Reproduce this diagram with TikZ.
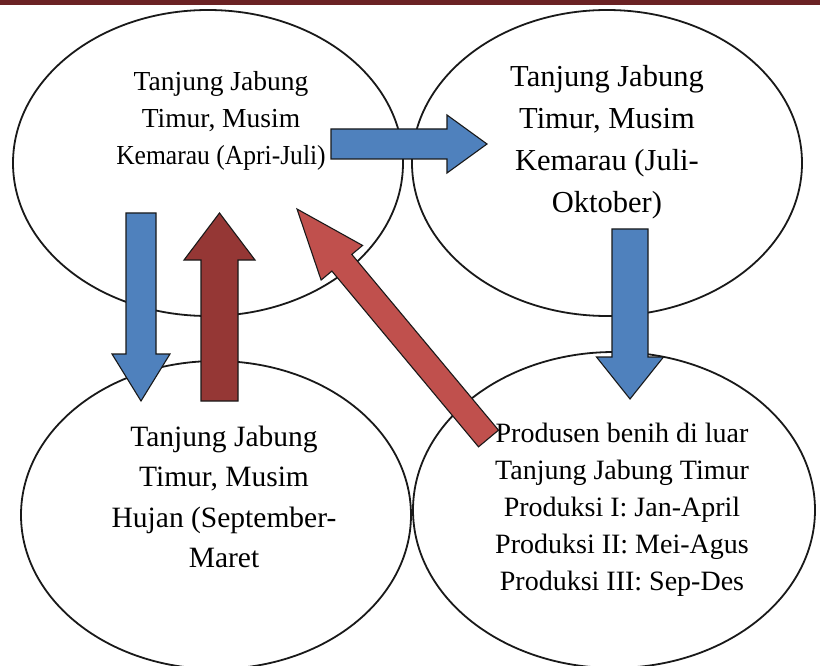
\documentclass[tikz,border=0pt]{standalone}
\usepackage{fontspec}
\setmainfont{Liberation Serif}
\usetikzlibrary{shapes.geometric,calc}
\definecolor{topbar}{HTML}{6B2224}
\definecolor{arrblue}{HTML}{4F81BD}
\definecolor{arrdark}{HTML}{953735}
\definecolor{arrred}{HTML}{C0504D}
\tikzset{
  oval/.style={draw=black!90, line width=1.8pt, ellipse, inner sep=0pt},
  lbl/.style={align=center, inner sep=0pt, text=black},
  barrow/.style={draw=black!90, line width=1.1pt, line join=miter},
}
% #1 style, #2 tail, #3 tip, #4 shaft half width, #5 head half width, #6 head length (pt)
\newcommand\blockarrowdraw[6]{%
  \coordinate (#2-neck) at ($(#3)!#6pt!(#2)$);
  \draw[barrow,#1] ($(#2)!#4pt!90:(#3)$) -- ($(#2-neck)!#4pt!90:(#3)$)
    -- ($(#2-neck)!#5pt!90:(#3)$) -- (#3) -- ($(#2-neck)!#5pt!-90:(#3)$)
    -- ($(#2-neck)!#4pt!-90:(#3)$) -- ($(#2)!#4pt!-90:(#3)$) -- cycle;
}
\begin{document}
\begin{tikzpicture}[x=1pt,y=-1pt]
\useasboundingbox (0,0) rectangle (820,666);
\fill[white] (0,0) rectangle (820,666);
\fill[topbar] (0,0) rectangle (820,5);
% ellipses
\node[oval, minimum width=390pt, minimum height=306pt] (tl) at (208,163) {};
\node[oval, minimum width=390pt, minimum height=306pt] (tr) at (607,163) {};
\node[oval, minimum width=390pt, minimum height=308pt] (bl) at (216,515) {};
\node[oval, minimum width=402pt, minimum height=316pt] (br) at (614,510) {};
% arrow ends
\coordinate (a1s) at (331,144);  \coordinate (a1e) at (487,144);
\coordinate (a2s) at (141,213);  \coordinate (a2e) at (141,401);
\coordinate (a3s) at (219.5,401);\coordinate (a3e) at (219.5,213);
\coordinate (a4s) at (630,229);  \coordinate (a4e) at (630,399);
\coordinate (a5s) at (488.5,438.5); \coordinate (a5e) at (297,209);
\blockarrowdraw{fill=arrblue}{a1s}{a1e}{15}{29}{40}
\blockarrowdraw{fill=arrblue}{a2s}{a2e}{15}{29}{47}
\blockarrowdraw{fill=arrdark}{a3s}{a3e}{18.5}{35.5}{47}
\blockarrowdraw{fill=arrblue}{a4s}{a4e}{18}{33.5}{42}
\blockarrowdraw{fill=arrred}{a5s}{a5e}{13}{27}{70}
% texts
\node[lbl, font=\fontsize{27.5}{37}\selectfont] (tlt) at (221,121)
  {Tanjung Jabung\\Timur, Musim\\\scalebox{0.93}[1]{Kemarau (Apri-Juli)}};
\node[lbl, font=\fontsize{30.5}{42}\selectfont] (trt) at (607,142)
  {Tanjung Jabung\\Timur, Musim\\Kemarau (Juli-\\Oktober)};
\node[lbl, font=\fontsize{29.5}{40.5}\selectfont] (blt) at (224,497)
  {Tanjung Jabung\\Timur, Musim\\Hujan (September-\\Maret};
\node[lbl, font=\fontsize{28}{37}\selectfont] (brt) at (622,510)
  {Produsen benih di luar\\Tanjung Jabung Timur\\Produksi I: Jan-April\\Produksi II: Mei-Agus\\Produksi III: Sep-Des};
\end{tikzpicture}
\end{document}
